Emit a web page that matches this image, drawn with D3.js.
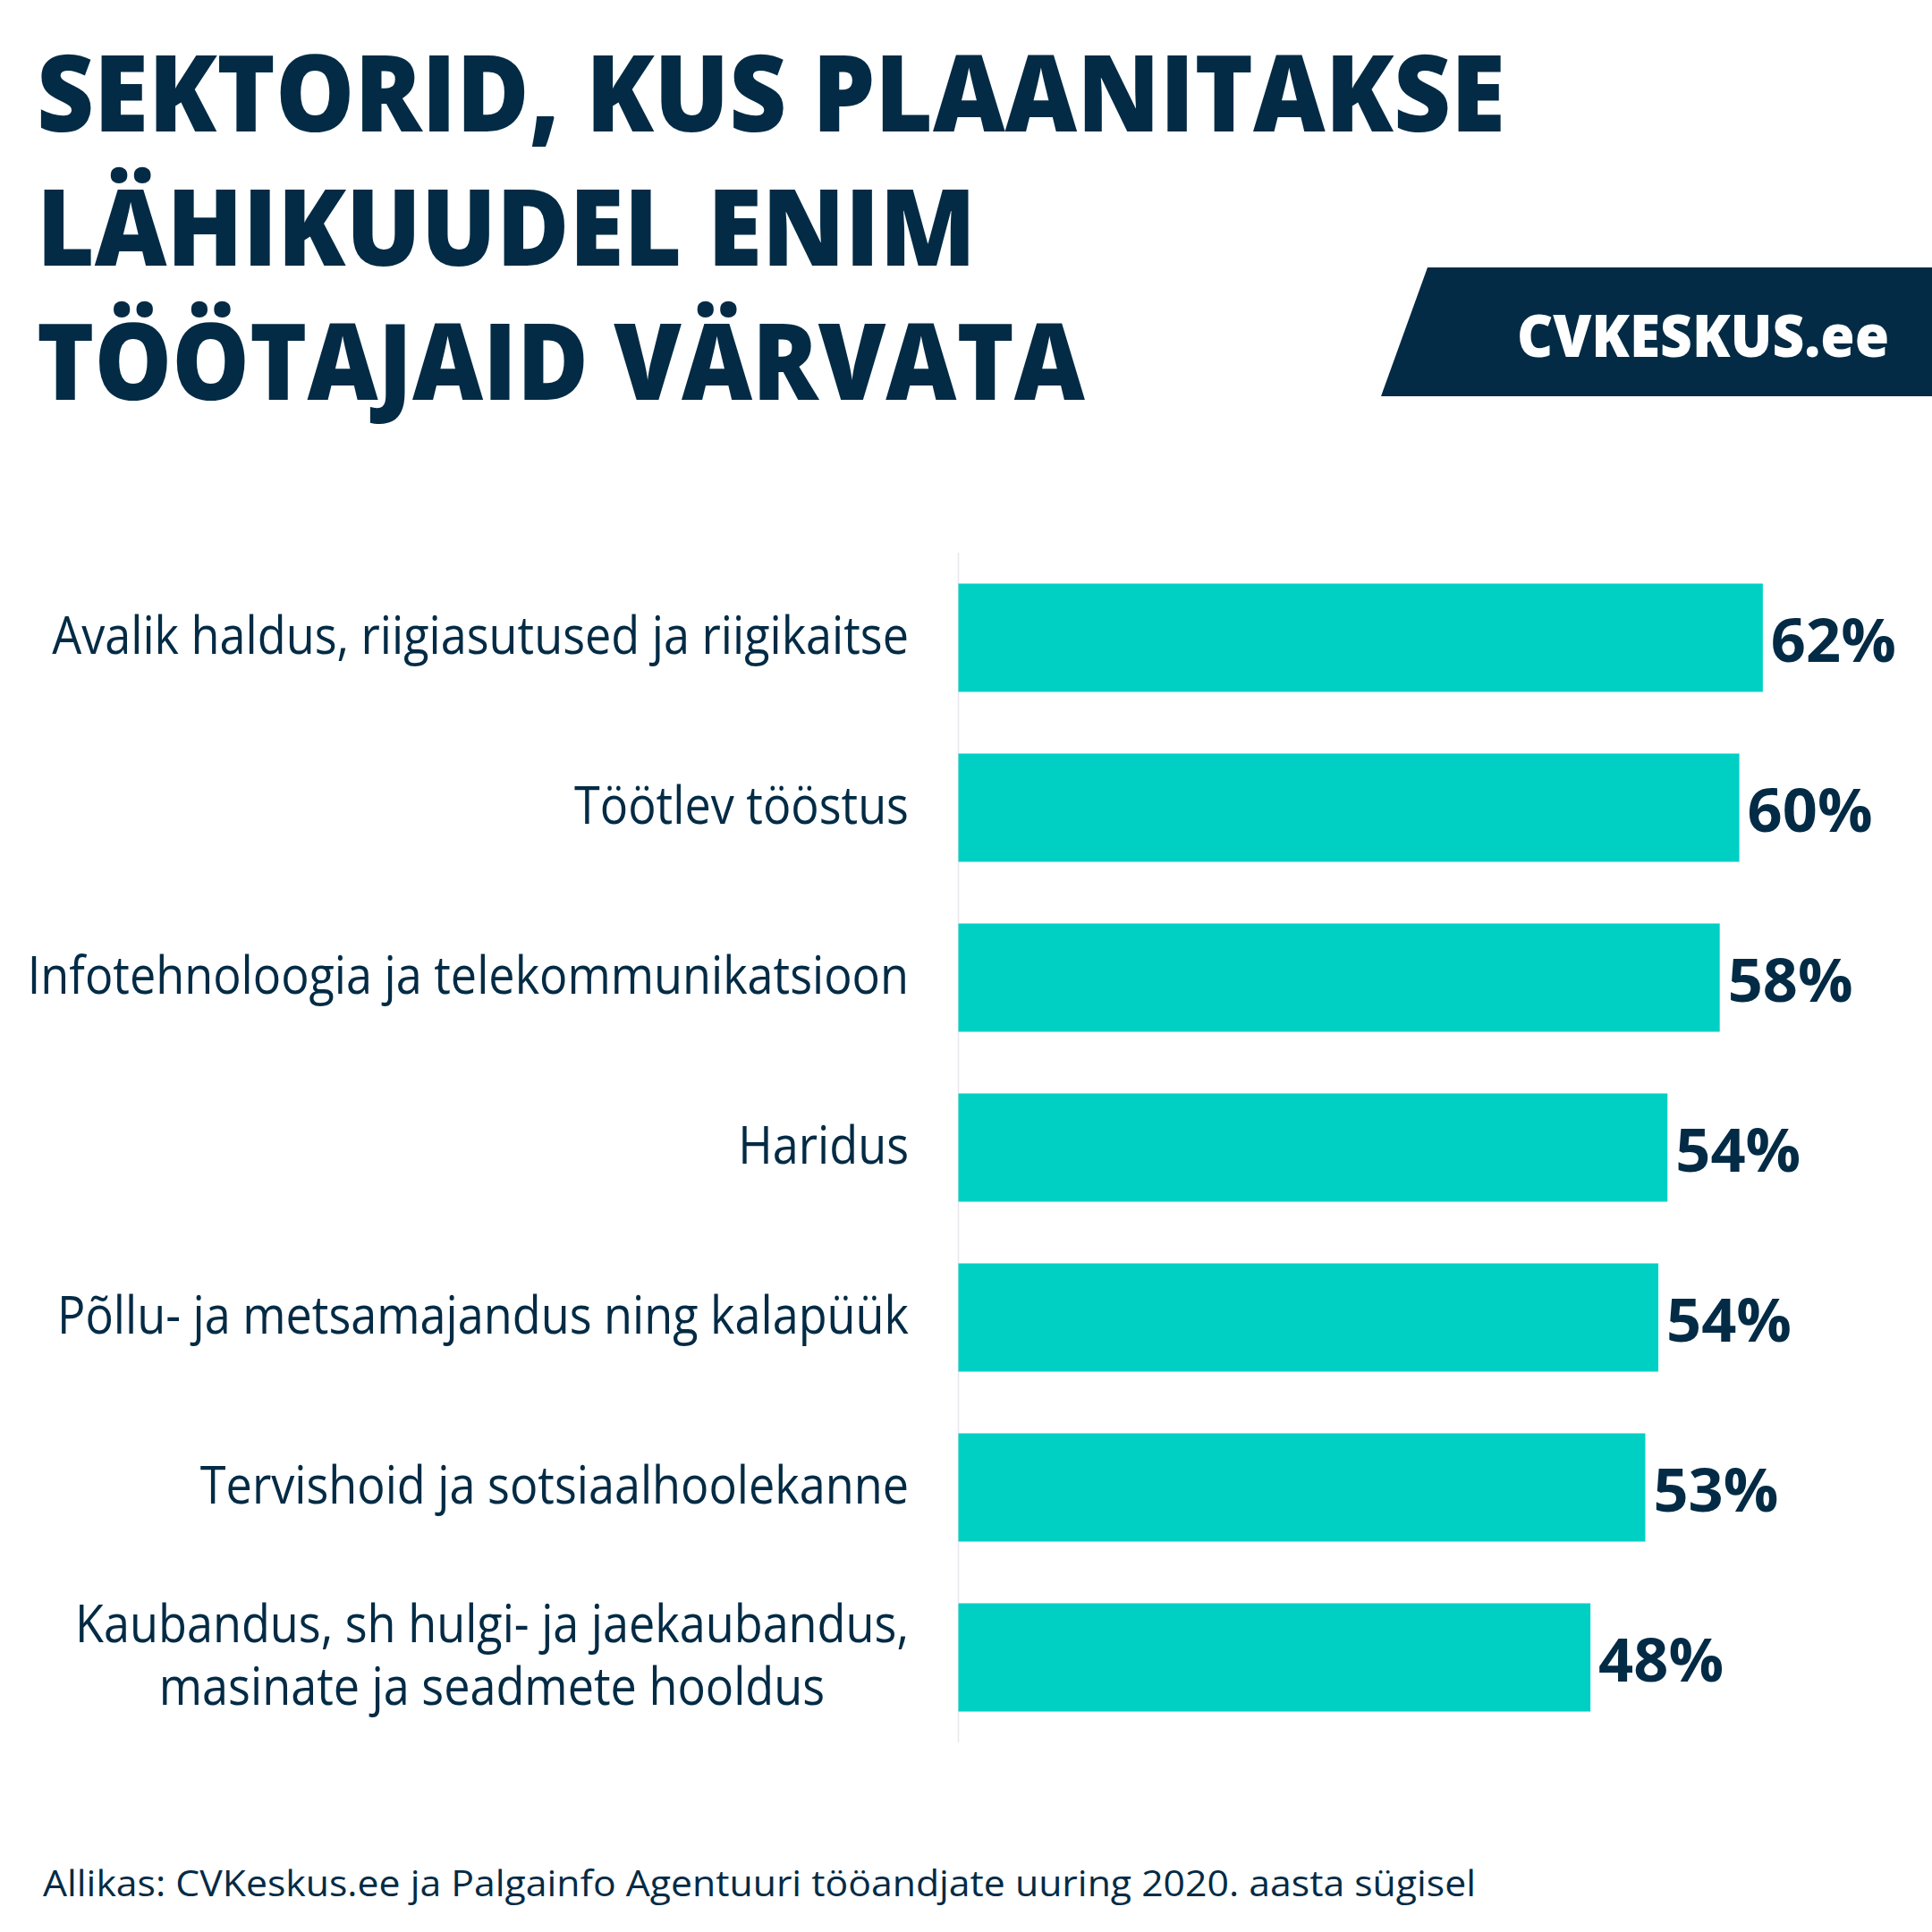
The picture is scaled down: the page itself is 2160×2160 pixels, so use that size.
<!DOCTYPE html>
<html lang="et">
<head>
<meta charset="UTF-8">
<title>Sektorid, kus plaanitakse värvata</title>
<script src="https://d3js.org/d3.v7.min.js"></script>
<style>
  html, body { margin: 0; padding: 0; background: #fff; }
  svg { display: block; }
</style>
</head>
<body>
<div id="chart"></div>
<script>
// data
var categories = [
  'Avalik haldus, riigiasutused ja riigikaitse',
  'Töötlev tööstus',
  'Infotehnoloogia ja telekommunikatsioon',
  'Haridus',
  'Põllu- ja metsamajandus ning kalapüük',
  'Tervishoid ja sotsiaalhoolekanne',
  'Kaubandus, sh hulgi- ja jaekaubandus,\nmasinate ja seadmete hooldus'
];
var values = [61.6, 59.8, 58.3, 54.3, 53.6, 52.6, 48.4];
var titleLines = ['SEKTORID, KUS PLAANITAKSE', 'LÄHIKUUDEL ENIM', 'TÖÖTAJAID VÄRVATA'];
var logoText = 'CVKESKUS.ee';
var sourceText = 'Allikas: CVKeskus.ee ja Palgainfo Agentuuri tööandjate uuring 2020. aasta sügisel';

var W = 2160, H = 2160;
var navy = '#032b45', teal = '#00d0c4';
var font = '"Open Sans", "Noto Sans", sans-serif';

var svg = d3.select('#chart').append('svg')
  .attr('width', W).attr('height', H);

svg.append('rect').attr('width', W).attr('height', H).attr('fill', '#fff');

// squeeze a group of texts horizontally by one ratio, so that the ref text gets refWidth
function squeeze(sel, refWidth) {
  var widths = [];
  sel.each(function() { widths.push(this.getComputedTextLength()); });
  var ratio = refWidth / widths[0];
  sel.each(function(d, i) {
    d3.select(this).attr('textLength', widths[i] * ratio).attr('lengthAdjust', 'spacingAndGlyphs');
  });
  return ratio;
}

// title, each line fitted to its width in the original
var titleWidths = [1642, 1050, 1172];
svg.append('g').selectAll('text')
  .data(titleLines)
  .enter().append('text')
  .attr('x', 41)
  .attr('y', function(d, i) { return 147 + i * 150; })
  .attr('fill', navy)
  .style('font-family', font)
  .style('font-weight', 800)
  .style('font-size', '119px')
  .text(function(d) { return d; })
  .each(function(d, i) { squeeze(d3.select(this), titleWidths[i]); });

// logo banner
svg.append('path')
  .attr('d', 'M1596,299 L2160,299 L2160,443 L1544,443 Z')
  .attr('fill', navy);
var logo = svg.append('text')
  .attr('x', 1696).attr('y', 399)
  .attr('fill', '#fff')
  .style('font-family', font)
  .style('font-weight', 800)
  .style('font-size', '65px')
  .text(logoText);
squeeze(logo, 416);

// scales
var x = d3.scaleLinear().domain([0, 100]).range([1071.5, 1071.5 + 1460]);
var y = d3.scaleBand().domain(categories).range([618, 1948])
  .paddingInner(0.363).paddingOuter(0.1815);

var rows = categories.map(function(c, i) { return { cat: c, value: values[i] }; });

// axis line
svg.append('line')
  .attr('x1', x(0)).attr('x2', x(0))
  .attr('y1', y.range()[0]).attr('y2', y.range()[1])
  .attr('stroke', '#e8e8ec').attr('stroke-width', 1.5);

// bars
svg.append('g').selectAll('rect')
  .data(rows)
  .enter().append('rect')
  .attr('x', x(0))
  .attr('y', function(d) { return y(d.cat); })
  .attr('width', function(d) { return x(d.value) - x(0); })
  .attr('height', y.bandwidth())
  .attr('fill', teal);

// value labels
var vals = svg.append('g').selectAll('text')
  .data(rows)
  .enter().append('text')
  .attr('x', function(d) { return x(d.value) + 9; })
  .attr('y', function(d) { return y(d.cat) + y.bandwidth() / 2 + 27; })
  .attr('fill', navy)
  .style('font-family', font)
  .style('font-weight', 700)
  .style('font-size', '66px')
  .text(function(d) { return Math.round(d.value) + '%'; });
squeeze(vals, 140);

// category labels: one text per row, squeezed with scaleX;
// lines of a two-line label are centred inside a right aligned block
var labelRight = 1016, lineGap = 70;
var labels = svg.append('g').selectAll('text')
  .data(rows)
  .enter().append('text')
  .attr('fill', navy)
  .style('font-family', font)
  .style('font-weight', 400)
  .style('font-size', '58px');

labels.each(function(d) {
  var t = d3.select(this);
  var parts = d.cat.split('\n');
  var spans = t.selectAll('tspan').data(parts).enter().append('tspan')
    .attr('x', 0)
    .attr('y', function(p, j) { return (j - (parts.length - 1) / 2) * lineGap; })
    .text(function(p) { return p; });
  var ws = [];
  spans.each(function() { ws.push(this.getComputedTextLength()); });
  d.lineW = ws;
});

var ratio = 958 / rows[0].lineW[0];
labels
  .attr('text-anchor', function(d) { return d.lineW.length > 1 ? 'middle' : 'end'; })
  .attr('transform', function(d) {
    var cx = labelRight;
    if (d.lineW.length > 1) cx = labelRight - d3.max(d.lineW) * ratio / 2;
    return 'translate(' + cx + ',' + (y(d.cat) + y.bandwidth() / 2 + 18) + ') scale(' + ratio + ',1)';
  });

// source
var src = svg.append('text')
  .attr('x', 48).attr('y', 2120)
  .attr('fill', navy)
  .style('font-family', font)
  .style('font-size', '40px')
  .text(sourceText);
squeeze(src, 1602);
</script>
</body>
</html>
